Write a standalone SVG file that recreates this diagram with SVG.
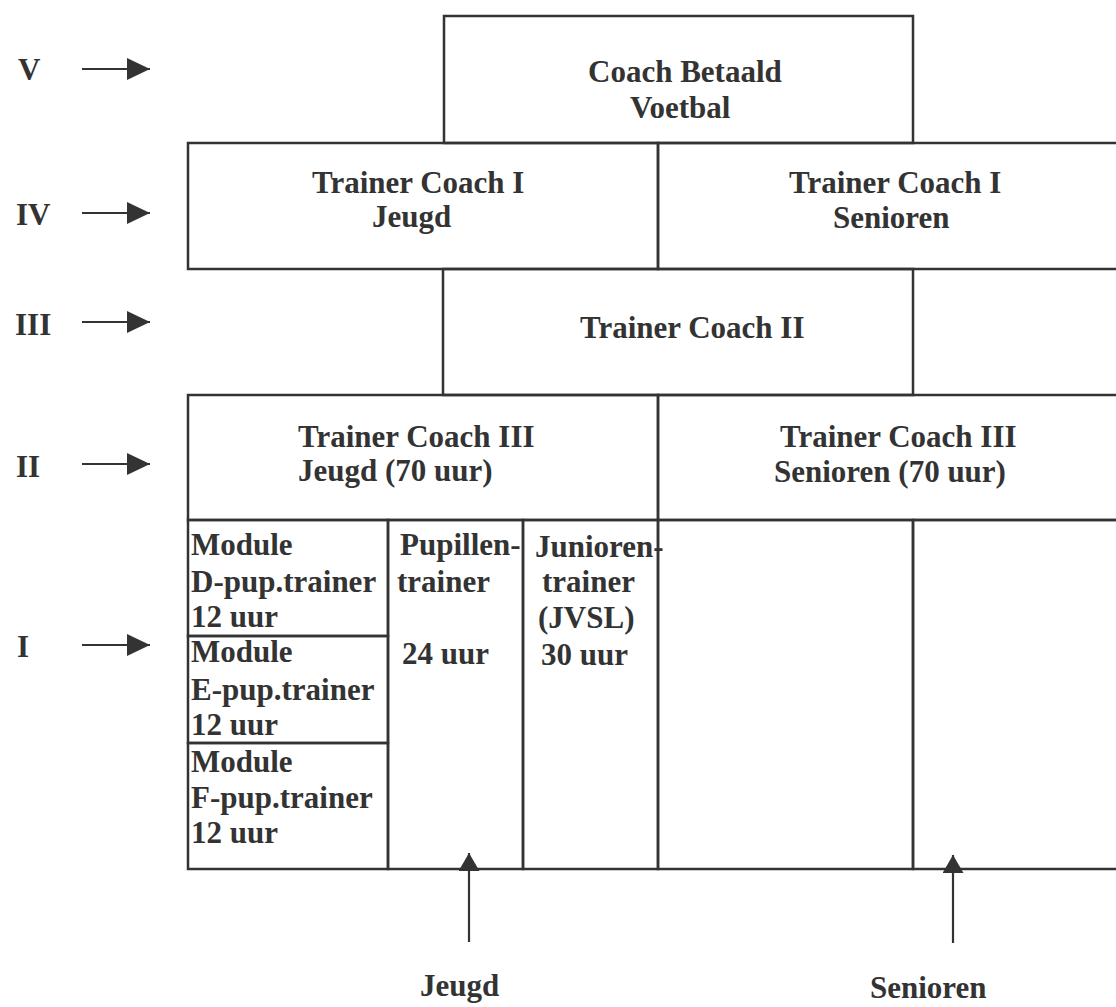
<svg xmlns="http://www.w3.org/2000/svg" width="1116" height="1007" viewBox="0 0 1116 1007">
<style>
.bx{fill:none;stroke:#333;stroke-width:2.5}
.ln{fill:none;stroke:#333;stroke-width:2.2}
.t{font-family:"Liberation Serif","Times New Roman",serif;font-weight:bold;font-size:31px;fill:#333}
</style>
<defs>
<marker id="ah" markerUnits="userSpaceOnUse" markerWidth="24" markerHeight="22" refX="23" refY="11" orient="auto">
<path d="M0,0 L23,11 L0,22 z" fill="#333"/>
</marker>
<marker id="ahu" markerUnits="userSpaceOnUse" markerWidth="19" markerHeight="22" refX="18" refY="10.5" orient="auto">
<path d="M0,0 L18,10.5 L0,21 z" fill="#333"/>
</marker>
</defs>
<rect width="1116" height="1007" fill="#fff"/>

<g id="levels">
<g id="level-V"><text class="t" x="18" y="80">V</text></g>
<g id="level-IV"><text class="t" x="16" y="225">IV</text></g>
<g id="level-III"><text class="t" x="15" y="335">III</text></g>
<g id="level-II"><text class="t" x="16" y="477">II</text></g>
<g id="level-I"><text class="t" x="17" y="657">I</text></g>
</g>

<g id="coach-betaald-voetbal">
<rect class="bx" x="444" y="16" width="469" height="127"/>
<text class="t" x="588" y="82">Coach Betaald</text>
<text class="t" x="630" y="118">Voetbal</text>
</g>

<g id="tc1-jeugd">
<rect class="bx" x="188" y="143" width="470" height="126"/>
<text class="t" x="312" y="193">Trainer Coach I</text>
<text class="t" x="372" y="227">Jeugd</text>
</g>

<g id="tc1-senioren">
<rect class="bx" x="658" y="143" width="472" height="126"/>
<text class="t" x="789" y="193">Trainer Coach I</text>
<text class="t" x="833" y="228">Senioren</text>
</g>

<g id="tc2">
<rect class="bx" x="443" y="269" width="470" height="126"/>
<text class="t" x="580" y="338">Trainer Coach II</text>
</g>

<g id="tc3-jeugd">
<rect class="bx" x="188" y="395" width="470" height="125"/>
<text class="t" x="298" y="447">Trainer Coach III</text>
<text class="t" x="298" y="481">Jeugd (70 uur)</text>
</g>

<g id="tc3-senioren">
<rect class="bx" x="658" y="395" width="472" height="125"/>
<text class="t" x="780" y="447">Trainer Coach III</text>
<text class="t" x="774" y="482">Senioren (70 uur)</text>
</g>

<g id="module-d">
<rect class="bx" x="188" y="520" width="200" height="116"/>
<text class="t" x="191" y="555">Module</text>
<text class="t" x="191" y="592">D-pup.trainer</text>
<text class="t" x="191" y="627">12 uur</text>
</g>

<g id="module-e">
<rect class="bx" x="188" y="636" width="200" height="107"/>
<text class="t" x="191" y="662">Module</text>
<text class="t" x="191" y="700">E-pup.trainer</text>
<text class="t" x="191" y="735">12 uur</text>
</g>

<g id="module-f">
<rect class="bx" x="188" y="743" width="200" height="126"/>
<text class="t" x="191" y="772">Module</text>
<text class="t" x="191" y="808">F-pup.trainer</text>
<text class="t" x="191" y="843">12 uur</text>
</g>

<g id="pupillentrainer">
<rect class="bx" x="388" y="520" width="135" height="349"/>
<text class="t" x="400" y="555">Pupillen-</text>
<text class="t" x="397" y="592">trainer</text>
<text class="t" x="402" y="664">24 uur</text>
</g>

<g id="juniorentrainer">
<rect class="bx" x="523" y="520" width="135" height="349"/>
<text class="t" x="535" y="557">Junioren-</text>
<text class="t" x="542" y="592">trainer</text>
<text class="t" x="538" y="628">(JVSL)</text>
<text class="t" x="541" y="665">30 uur</text>
</g>

<g id="senioren-cell-a">
<rect class="bx" x="658" y="520" width="255" height="349"/>
</g>
<g id="senioren-cell-b">
<rect class="bx" x="913" y="520" width="217" height="349"/>
</g>

<g id="label-jeugd"><text class="t" x="420" y="996">Jeugd</text></g>
<g id="label-senioren"><text class="t" x="870" y="998">Senioren</text></g>

<g id="connectors">
<line class="ln" x1="82" y1="69" x2="150" y2="69" marker-end="url(#ah)"/>
<line class="ln" x1="82" y1="213" x2="150" y2="213" marker-end="url(#ah)"/>
<line class="ln" x1="82" y1="322" x2="150" y2="322" marker-end="url(#ah)"/>
<line class="ln" x1="82" y1="464" x2="150" y2="464" marker-end="url(#ah)"/>
<line class="ln" x1="82" y1="645" x2="150" y2="645" marker-end="url(#ah)"/>
<line class="ln" x1="469" y1="942" x2="469" y2="853" marker-end="url(#ahu)"/>
<line class="ln" x1="953" y1="943" x2="953" y2="855" marker-end="url(#ahu)"/>
</g>
</svg>
